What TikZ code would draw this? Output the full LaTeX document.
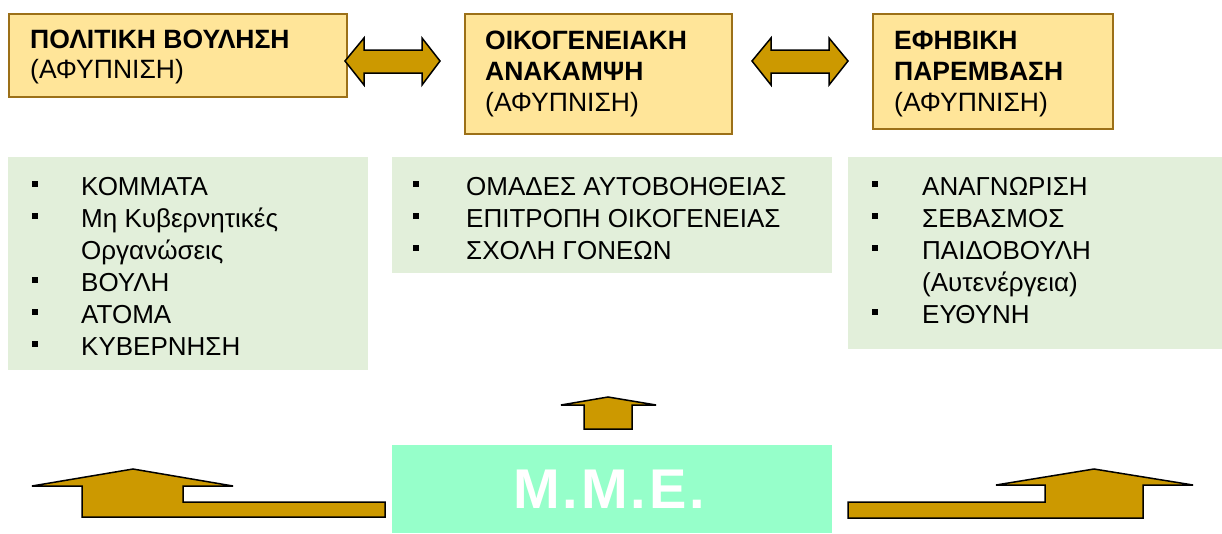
\documentclass[tikz,border=0pt]{standalone}
\usepackage{fontspec}
\setmainfont{Liberation Sans}
\newfontfamily\mmefont[LetterSpace=5]{Liberation Sans}
\definecolor{ybox}{HTML}{FFE599}
\definecolor{yborder}{HTML}{9C7018}
\definecolor{gbox}{HTML}{E2EFDA}
\definecolor{mint}{HTML}{96FFCA}
\definecolor{gold}{HTML}{CC9900}
\tikzset{
  titlebox/.style={draw=yborder, line width=2pt, fill=ybox, anchor=north west, inner sep=0pt},
  listbox/.style={fill=gbox, anchor=north west, inner sep=0pt},
  titletext/.style={anchor=base west, inner sep=0pt, font=\fontsize{26.5}{30}\selectfont},
  titlebold/.style={titletext, font=\fontsize{26.5}{30}\selectfont\bfseries},
  listtext/.style={anchor=base west, inner sep=0pt, font=\fontsize{26}{31}\selectfont},
  bul/.style={fill=black, inner sep=0pt, minimum size=6pt},
  blockarrow/.style={fill=gold, draw=black, line width=1.5pt, line join=miter},
}
\begin{document}
\begin{tikzpicture}[x=1pt,y=-1pt]
\useasboundingbox (0,0) rectangle (1222,533);
% title boxes
\node[titlebox, minimum width=338pt, minimum height=83pt] (pol) at (8,13) {};
\node[titlebox, minimum width=267pt, minimum height=120pt] (oik) at (464,13) {};
\node[titlebox, minimum width=240pt, minimum height=115pt] (efi) at (872,13) {};
\node[titlebold] (pol1) at (30,48) {ΠΟΛΙΤΙΚΗ ΒΟΥΛΗΣΗ};
\node[titletext] (pol2) at (30,78) {(ΑΦΥΠΝΙΣΗ)};
\node[titlebold] (oik1) at (485,49) {ΟΙΚΟΓΕΝΕΙΑΚΗ};
\node[titlebold] (oik2) at (485,80) {ΑΝΑΚΑΜΨΗ};
\node[titletext] (oik3) at (485,111) {(ΑΦΥΠΝΙΣΗ)};
\node[titlebold] (efi1) at (894,49) {ΕΦΗΒΙΚΗ};
\node[titlebold] (efi2) at (894,80) {ΠΑΡΕΜΒΑΣΗ};
\node[titletext] (efi3) at (894,111) {(ΑΦΥΠΝΙΣΗ)};
% double arrows
\coordinate (a1l) at (345,61); \coordinate (a1r) at (440,61);
\draw[blockarrow] (a1l) -- (364,38) -- (364,50) -- (422,50) -- (422,38) -- (a1r) -- (422,85) -- (422,73) -- (364,73) -- (364,85) -- cycle;
\coordinate (a2l) at (752,61); \coordinate (a2r) at (848,61);
\draw[blockarrow] (a2l) -- (771,38) -- (771,50) -- (829,50) -- (829,38) -- (a2r) -- (829,85) -- (829,73) -- (771,73) -- (771,85) -- cycle;
% list boxes
\node[listbox, minimum width=360pt, minimum height=213pt] (l1) at (8,157) {};
\node[listbox, minimum width=440pt, minimum height=116pt] (l2) at (392,157) {};
\node[listbox, minimum width=374pt, minimum height=192pt] (l3) at (848,157) {};
% left list
\node[bul] (b11) at (35,184) {}; \node[listtext] (t11) at (81,195) {ΚΟΜΜΑΤΑ};
\node[bul] (b12) at (35,216) {}; \node[listtext] (t12) at (81,227) {Μη Κυβερνητικές};
\node[listtext] (t12b) at (81,259) {Οργανώσεις};
\node[bul] (b13) at (35,280) {}; \node[listtext] (t13) at (81,291) {ΒΟΥΛΗ};
\node[bul] (b14) at (35,312) {}; \node[listtext] (t14) at (81,323) {ΑΤΟΜΑ};
\node[bul] (b15) at (35,344) {}; \node[listtext] (t15) at (81,355) {ΚΥΒΕΡΝΗΣΗ};
% middle list
\node[bul] (b21) at (416,184) {}; \node[listtext] (t21) at (466,195) {ΟΜΑΔΕΣ ΑΥΤΟΒΟΗΘΕΙΑΣ};
\node[bul] (b22) at (416,216) {}; \node[listtext] (t22) at (466,227) {ΕΠΙΤΡΟΠΗ ΟΙΚΟΓΕΝΕΙΑΣ};
\node[bul] (b23) at (416,248) {}; \node[listtext] (t23) at (466,259) {ΣΧΟΛΗ ΓΟΝΕΩΝ};
% right list
\node[bul] (b31) at (875,184) {}; \node[listtext] (t31) at (922,195) {ΑΝΑΓΝΩΡΙΣΗ};
\node[bul] (b32) at (875,216) {}; \node[listtext] (t32) at (922,227) {ΣΕΒΑΣΜΟΣ};
\node[bul] (b33) at (875,248) {}; \node[listtext] (t33) at (922,259) {ΠΑΙΔΟΒΟΥΛΗ};
\node[listtext] (t33b) at (922,291) {(Αυτενέργεια)};
\node[bul] (b34) at (875,312) {}; \node[listtext] (t34) at (922,323) {ΕΥΘΥΝΗ};
% MME box
\node[fill=mint, anchor=north west, inner sep=0pt, minimum width=440pt, minimum height=88pt] (mme) at (392,445) {};
\node[text=white, inner sep=0pt, font=\mmefont\fontsize{56}{60}\selectfont\bfseries] (mmet) at ([xshift=-3pt]mme.center) {Μ.Μ.Ε.};
% up arrows
\draw[blockarrow] (584,429) -- (584,405) -- (561,405) -- (608,397) -- (656,405) -- (632,405) -- (632,429) -- cycle;
\draw[blockarrow] (385,517) -- (82,517) -- (82,486) -- (32,486) -- (133,469) -- (233,486) -- (183,486) -- (183,502) -- (385,502) -- cycle;
\draw[blockarrow] (848,502) -- (1045,502) -- (1045,485) -- (996,485) -- (1094,469) -- (1193,485) -- (1143,485) -- (1143,518) -- (848,518) -- cycle;
\end{tikzpicture}
\end{document}
